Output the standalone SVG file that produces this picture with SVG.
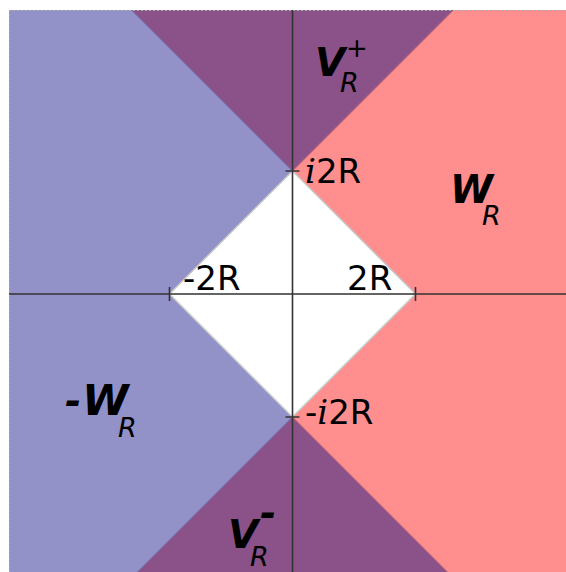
<svg xmlns="http://www.w3.org/2000/svg" width="566" height="572" viewBox="0 0 566 572">
<style>
.lab{font-family:"DejaVu Sans",sans-serif;font-size:34px;fill:#000}
.it{font-family:"DejaVu Serif",serif;font-style:italic}
.big{font-family:"DejaVu Sans",sans-serif;font-size:39px;font-weight:bold;font-style:italic;fill:#000}
.sub{font-family:"DejaVu Sans",sans-serif;font-size:27px;font-style:italic;fill:#000}
.sup{font-family:"DejaVu Sans",sans-serif;font-size:26px;fill:#000}
.axis{stroke:#333;stroke-width:1.6;fill:none}
</style>
<rect x="0" y="0" width="566" height="572" fill="#fff"/>
<g id="regions">
<polygon points="9,10 453.5,10 292.5,171 169.5,294 292.5,417 447.5,572 9,572" fill="#9292c8"/>
<polygon points="131.5,10 292.5,171 415.5,294 292.5,417 137.5,572 566,572 566,10" fill="#ff8f8f"/>
<polygon points="131.5,10 453.5,10 292.5,171" fill="#8b5289"/>
<polygon points="137.5,572 447.5,572 292.5,417" fill="#8b5289"/>
</g>
<g id="edges" fill="none" stroke-width="1">
<path d="M131.5,10 L292.5,171 M137.5,572 L292.5,417" stroke="#6a6aaa"/>
<path d="M453.5,10 L292.5,171 M447.5,572 L292.5,417" stroke="#b86a7a"/>
<polygon points="169.5,294 292.5,171 415.5,294 292.5,417" fill="#fff" stroke="#c8c8c8" stroke-width="1.5"/>
<path d="M9,10.5 H566 M9.5,10 V572" stroke="#aaa" stroke-dasharray="2 2"/>
</g>
<g id="axes">
<path class="axis" d="M9,294 H566 M292.5,10 V572"/>
<path class="axis" d="M169.5,287 V301 M415.5,287 V301 M285.5,171 H299.5 M285.5,417 H299.5"/>
</g>
<g id="labels">
<text class="lab" x="347" y="290">2R</text>
<text class="lab" x="183" y="290">-2R</text>
<text class="lab" x="305" y="183"><tspan class="it">i</tspan>2R</text>
<text class="lab" x="305" y="424">-<tspan class="it">i</tspan>2R</text>
</g>
<g id="WR"><text class="big" x="450" y="203">W</text><text class="sub" x="482" y="225">R</text></g>
<g id="mWR"><text class="big" x="65" y="415">-<tspan dx="1" font-size="42">W</tspan></text><text class="sub" x="118" y="437">R</text></g>
<g id="VRp"><text class="big" x="315" y="76">V</text><text class="sup" x="346" y="57">+</text><text class="sub" x="340" y="92">R</text></g>
<g id="VRm"><text class="big" x="228" y="548">V</text><text class="big" x="260" y="527">-</text><text class="sub" x="250" y="566">R</text></g>
</svg>
